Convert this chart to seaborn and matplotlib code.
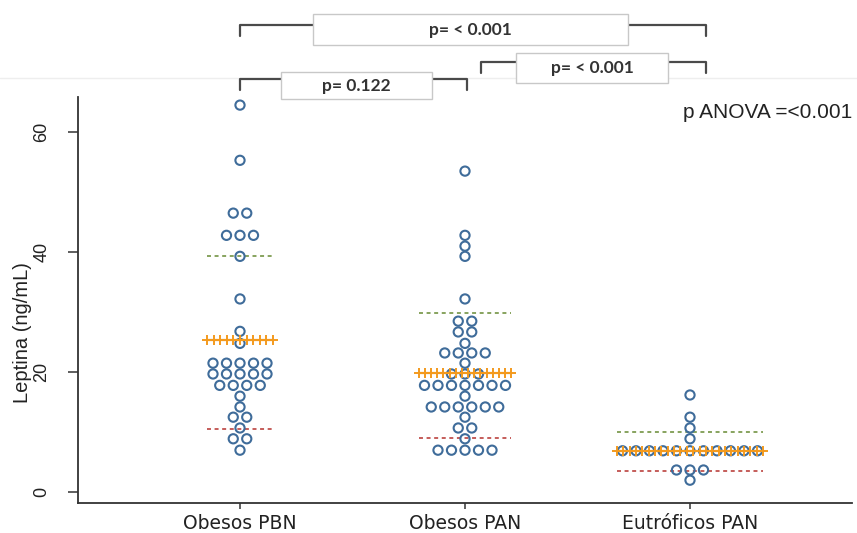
import matplotlib
matplotlib.use("Agg")
import matplotlib.pyplot as plt
import matplotlib.transforms as mtransforms
from matplotlib.lines import Line2D
from matplotlib.patches import Rectangle
import numpy as np
import pandas as pd
import seaborn as sns

# values (ng/mL)
groups = ["Obesos PBN", "Obesos PAN", "Eutróficos PAN"]
obesos_pbn = [64.4, 55.2, 46.4, 46.4, 42.7, 42.7, 42.7, 39.2, 32.1, 26.7, 24.7,
              21.4, 21.4, 21.4, 21.4, 21.4, 19.6, 19.6, 19.6, 19.6, 19.6,
              17.7, 17.7, 17.7, 17.7, 15.9, 14.1, 12.4, 12.4, 10.6,
              8.8, 8.8, 6.9]
obesos_pan = [53.4, 42.7, 40.9, 39.2, 32.1, 28.4, 28.4, 26.6, 26.6, 24.7,
              23.1, 23.1, 23.1, 23.1, 21.4, 19.6, 19.6, 19.6,
              17.7, 17.7, 17.7, 17.7, 17.7, 17.7, 17.7, 15.9,
              14.1, 14.1, 14.1, 14.1, 14.1, 14.1, 12.4, 10.6, 10.6, 8.8,
              6.9, 6.9, 6.9, 6.9, 6.9]
eutroficos_pan = [16.1, 12.4, 10.6, 8.8,
                  6.8, 6.8, 6.8, 6.8, 6.8, 6.8, 6.8, 6.8, 6.8, 6.8, 6.8,
                  3.6, 3.6, 3.6, 1.9]
upper_line = [39.2, 29.7, 9.9]
median_line = [25.2, 19.8, 6.8]
lower_line = [10.4, 8.9, 3.4]
y_ticks = [0, 20, 40, 60]

# pairwise comparisons: (left x, right x, label)
comparisons = [(0.0, 2.07, "p= < 0.001"),
               (1.07, 2.07, "p= < 0.001"),
               (0.0, 1.01, "p= 0.122")]
anova_label = "p ANOVA =<0.001"

BLUE = "#3F6C9A"
GREEN = "#7E9C52"
ORANGE = "#F39A1E"
RED = "#C0504D"
SPACING = 0.06
NARROW = ["Liberation Sans Narrow", "Liberation Sans", "DejaVu Sans"]


def dot_offsets(values):
    # centre every row of equal values around the category position
    vals = np.asarray(values)
    offs = np.zeros(len(vals))
    for v in np.unique(vals):
        idx = np.where(vals == v)[0]
        offs[idx] = (np.arange(len(idx)) - (len(idx) - 1) / 2) * SPACING
    return offs


def main():
    sns.set_theme(style="white")
    plt.rcParams["font.family"] = ["DejaVu Sans"]

    rows = []
    for i, (name, vals) in enumerate(zip(groups, [obesos_pbn, obesos_pan, eutroficos_pan])):
        for v, o in zip(vals, dot_offsets(vals)):
            rows.append({"grupo": name, "leptina": v, "xpos": i + o})
    df = pd.DataFrame(rows)

    fig = plt.figure(figsize=(8.57, 5.33), dpi=100)
    ax = fig.add_axes([78 / 857, 1 - 503 / 533, (852 - 78) / 857, (503 - 97) / 533])

    # summary lines, width follows the widest row of dots
    for i, vals in enumerate([obesos_pbn, obesos_pan, eutroficos_pan]):
        widest = pd.Series(vals).value_counts().max()
        hw = (widest - 1) / 2 * SPACING + 0.025
        ax.plot([i - hw, i + hw], [upper_line[i]] * 2, color=GREEN, lw=1.3,
                ls=(0, (2.2, 2.0)), zorder=1)
        ax.plot([i - hw, i + hw], [lower_line[i]] * 2, color=RED, lw=1.3,
                ls=(0, (2.2, 2.0)), zorder=1)
        xs = np.linspace(i - hw, i + hw, int(round(2 * hw / 0.028)) + 1)
        ax.plot(xs, [median_line[i]] * len(xs), color=ORANGE, lw=1.6,
                marker="+", ms=7, mew=1.4, zorder=4)

    sns.scatterplot(data=df, x="xpos", y="leptina", ax=ax, marker="o", s=44,
                    facecolor="none", edgecolor=BLUE, linewidth=1.5, zorder=3)

    ax.set_xlim(-0.72, 2.72)
    ax.set_ylim(-1.9, 65.75)
    ax.set_xticks(range(len(groups)))
    ax.set_xticklabels(groups, fontsize=13.5, color="#222222",
                       family=["DejaVu Sans"])
    ax.set_yticks(y_ticks)
    ax.set_yticklabels([str(t) for t in y_ticks], rotation=90, va="center",
                       fontsize=13, color="#222222", family=NARROW)
    ax.set_xlabel("")
    ax.set_ylabel("Leptina (ng/mL)", fontsize=14.5, color="#222222", family=NARROW)
    ax.yaxis.set_label_coords(-0.059, 0.42)
    ax.tick_params(axis="x", direction="out", length=4, width=1.1,
                   color="#333333", pad=4, bottom=True)
    ax.tick_params(axis="y", direction="out", length=7, width=1.1,
                   color="#333333", pad=13, left=True)
    for side in ["top", "right"]:
        ax.spines[side].set_visible(False)
    for side in ["left", "bottom"]:
        ax.spines[side].set_color("#333333")
        ax.spines[side].set_linewidth(1.3)

    ax.text(2.72, 63.2, anova_label, ha="right", va="center", fontsize=15,
            color="#222222", family=["Liberation Sans", "DejaVu Sans"])

    # faint separator above the plot area
    fig.add_artist(Line2D([0, 1], [1 - 78 / 533] * 2, transform=fig.transFigure,
                          color="#eeeeee", lw=1))

    # comparison brackets above the axes
    trans = mtransforms.blended_transform_factory(ax.transData, fig.transFigure)
    levels = [25, 62, 79]
    boxes = [(0.324, 1.724, 14, 45), (1.227, 1.902, 53, 83), (0.182, 0.853, 72, 99)]
    for (x0, x1, label), yb, (bx0, bx1, by0, by1) in zip(comparisons, levels, boxes):
        yh = 1 - yb / 533
        yt = 1 - (yb + 11) / 533
        fig.add_artist(Line2D([x0, x0, x1, x1], [yt, yh, yh, yt], transform=trans,
                              color="#4a4a4a", lw=1.6, solid_joinstyle="round",
                              solid_capstyle="round", clip_on=False, zorder=5))
        fig.add_artist(Rectangle((bx0, 1 - by1 / 533), bx1 - bx0, (by1 - by0) / 533,
                                 transform=trans, facecolor="white",
                                 edgecolor="#c8c8c8", lw=1.0, clip_on=False, zorder=6))
        fig.text((bx0 + bx1) / 2, 1 - (by0 + by1) / 2 / 533, label, transform=trans,
                 ha="center", va="center", fontsize=12.5, fontweight="bold",
                 family=["Lato", "DejaVu Sans"], color="#333333", zorder=7)

    fig.savefig("out.png", dpi=100)
    plt.close(fig)


if __name__ == "__main__":
    main()
